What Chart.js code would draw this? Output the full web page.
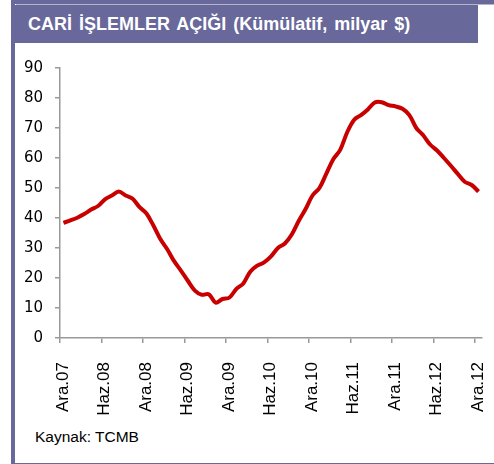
<!DOCTYPE html>
<html>
<head>
<meta charset="utf-8">
<script src="https://cdn.jsdelivr.net/npm/chart.js@4"></script>
<style>
    html, body { margin: 0; padding: 0; background: #ffffff; }
    #wrap { position: relative; width: 494px; height: 464px; overflow: hidden; }
    #frame { position: absolute; left: 11px; top: 0; width: 500px; height: 459px;
             border-left: 4px solid #68689a; border-top: 4px solid #68689a; border-bottom: 4px solid #68689a; }
    #topline { position: absolute; left: 16px; top: 4px; width: 480px; height: 1px; background: #b4b4cc; }
    #header { position: absolute; left: 11px; top: 5px; width: 467px; height: 38px; background: #68689a; }
    #title { position: absolute; left: 28px; top: 14px; color: #ffffff; font: bold 18px "Liberation Sans", Arial, sans-serif;
             white-space: nowrap; word-spacing: 2px; }
    #source { position: absolute; left: 35px; top: 428px; font: 15.5px "Liberation Sans", Arial, sans-serif; color: #000; }
    canvas { position: absolute; left: 0; top: 0; }
</style>
</head>
<body>
<div id="wrap">
    <div id="frame"></div>
    <div id="topline"></div>
    <div id="header"></div>
    <div id="title">CARİ İŞLEMLER AÇIĞI (Kümülatif, milyar $)</div>
    <div id="source">Kaynak: TCMB</div>
    <canvas id="grafik" width="494" height="464"></canvas>
</div>
<script>
// Aylar: Ara.07 - Ara.12
var aylar = ['Ara.07', 'Oca.08', 'Şub.08', 'Mar.08', 'Nis.08', 'May.08', 'Haz.08', 'Tem.08', 'Ağu.08', 'Eyl.08', 'Eki.08', 'Kas.08',
             'Ara.08', 'Oca.09', 'Şub.09', 'Mar.09', 'Nis.09', 'May.09', 'Haz.09', 'Tem.09', 'Ağu.09', 'Eyl.09', 'Eki.09', 'Kas.09',
             'Ara.09', 'Oca.10', 'Şub.10', 'Mar.10', 'Nis.10', 'May.10', 'Haz.10', 'Tem.10', 'Ağu.10', 'Eyl.10', 'Eki.10', 'Kas.10',
             'Ara.10', 'Oca.11', 'Şub.11', 'Mar.11', 'Nis.11', 'May.11', 'Haz.11', 'Tem.11', 'Ağu.11', 'Eyl.11', 'Eki.11', 'Kas.11',
             'Ara.11', 'Oca.12', 'Şub.12', 'Mar.12', 'Nis.12', 'May.12', 'Haz.12', 'Tem.12', 'Ağu.12', 'Eyl.12', 'Eki.12', 'Kas.12',
             'Ara.12'];

// Cari islemler acigi (kumulatif, milyar $)
var acik = [38.4, 39.2, 40.1, 41.3, 42.8, 44.0, 46.2, 47.5, 48.8, 47.5, 46.4, 43.6,
            41.5, 37.5, 33.0, 29.6, 25.6, 22.4, 19.0, 15.8, 14.4, 14.6, 11.8, 13.0,
            13.5, 16.4, 18.2, 22.1, 24.1, 25.2, 27.2, 30.0, 31.5, 34.5, 39.0, 43.0,
            47.5, 50.0, 54.8, 59.6, 62.7, 68.5, 72.7, 74.3, 76.2, 78.5, 78.6, 77.6,
            77.2, 76.4, 74.3, 70.0, 67.6, 64.5, 62.5, 60.0, 57.4, 54.7, 52.1, 51.0,
            48.8];

// Eksen etiketleri (her 6 ayda bir)
var eksenEtiketleri = ['Ara.07', 'Haz.08', 'Ara.08', 'Haz.09', 'Ara.09', 'Haz.10', 'Ara.10', 'Haz.11', 'Ara.11', 'Haz.12', 'Ara.12'];
var yTikleri = [0, 10, 20, 30, 40, 50, 60, 70, 80, 90];

var noktalar = acik.map(function (v, i) {
    return { x: i + 0.5, y: v };
});

var ctx = document.getElementById('grafik').getContext('2d');
new Chart(ctx, {
    type: 'line',
    data: {
        labels: aylar,
        datasets: [{
            label: 'Cari işlemler açığı',
            data: noktalar,
            borderColor: '#c80000',
            borderWidth: 4,
            pointRadius: 0,
            tension: 0.35,
            fill: false
        }]
    },
    options: {
        responsive: false,
        animation: false,
        layout: { padding: { left: 0, top: 68, right: 12, bottom: 46 } },
        plugins: { legend: { display: false }, tooltip: { enabled: false } },
        scales: {
            x: {
                type: 'linear',
                min: 0,
                max: aylar.length,
                afterBuildTicks: function (scale) {
                    scale.ticks = eksenEtiketleri.map(function (e, i) { return { value: i * 6 }; });
                },
                afterFit: function (scale) {
                    scale.height = 80;
                    // etiketlerin ek kenar boslugunu kaldir
                    scale.paddingLeft = 0;
                    scale.paddingRight = 0;
                },
                grid: { drawOnChartArea: false, tickLength: 5, color: '#999999', lineWidth: 1.5 },
                border: { display: true, color: '#999999', width: 1.5 },
                ticks: {
                    minRotation: 90,
                    maxRotation: 90,
                    autoSkip: false,
                    padding: 19,
                    labelOffset: 3,
                    color: '#000000',
                    font: { family: 'Liberation Sans', size: 17 },
                    callback: function (value) { return eksenEtiketleri[Math.round(value / 6)]; }
                }
            },
            y: {
                min: 0,
                max: 90,
                afterBuildTicks: function (scale) {
                    scale.ticks = yTikleri.map(function (v) { return { value: v }; });
                },
                afterFit: function (scale) { scale.width = 60; },
                grid: { drawOnChartArea: false, tickLength: 5, color: '#999999', lineWidth: 1.5 },
                border: { display: true, color: '#999999', width: 1.5 },
                ticks: {
                    padding: 12,
                    color: '#000000',
                    font: { family: 'DejaVu Sans', size: 15 }
                }
            }
        }
    }
});
</script>
</body>
</html>
